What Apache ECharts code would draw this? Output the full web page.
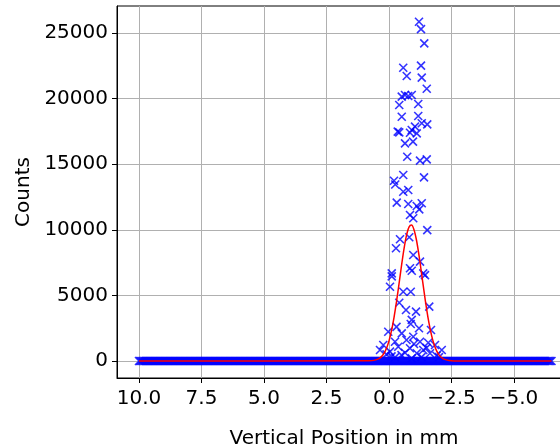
<!DOCTYPE html>
<html>
<head>
<meta charset="utf-8">
<script src="https://cdn.jsdelivr.net/npm/echarts@6/dist/echarts.min.js"></script>
<style>
  html, body { margin: 0; padding: 0; background: #fff; }
  #chart { width: 560px; height: 447px; }
</style>
</head>
<body>
<div id="chart"></div>
<script>
// positions (mm) of the flat zero-count samples
const baselineX = [
  10.0, 9.9, 9.8, 9.7, 9.6, 9.5, 9.4, 9.3, 9.2, 9.1,
  9.0, 8.9, 8.8, 8.7, 8.6, 8.5, 8.4, 8.3, 8.2, 8.1,
  8.0, 7.9, 7.8, 7.7, 7.6, 7.5, 7.4, 7.3, 7.2, 7.1,
  7.0, 6.9, 6.8, 6.7, 6.6, 6.5, 6.4, 6.3, 6.2, 6.1,
  6.0, 5.9, 5.8, 5.7, 5.6, 5.5, 5.4, 5.3, 5.2, 5.1,
  5.0, 4.9, 4.8, 4.7, 4.6, 4.5, 4.4, 4.3, 4.2, 4.1,
  4.0, 3.9, 3.8, 3.7, 3.6, 3.5, 3.4, 3.3, 3.2, 3.1,
  3.0, 2.9, 2.8, 2.7, 2.6, 2.5, 2.4, 2.3, 2.2, 2.1,
  2.0, 1.9, 1.8, 1.7, 1.6, 1.5, 1.4, 1.3, 1.2, 1.1,
  1.0, 0.9, 0.8, 0.7, 0.6, 0.5, 0.4, 0.3, 0.2, 0.1,
  0.0, -0.1, -0.2, -0.3, -0.4, -0.5, -0.6, -0.7, -0.8, -0.9,
  -1.0, -1.1, -1.2, -1.3, -1.4, -1.5, -1.6, -1.7, -1.8, -1.9,
  -2.0, -2.1, -2.2, -2.3, -2.4, -2.5, -2.6, -2.7, -2.8, -2.9,
  -3.0, -3.1, -3.2, -3.3, -3.4, -3.5, -3.6, -3.7, -3.8, -3.9,
  -4.0, -4.1, -4.2, -4.3, -4.4, -4.5, -4.6, -4.7, -4.8, -4.9,
  -5.0, -5.1, -5.2, -5.3, -5.4, -5.5, -5.6, -5.7, -5.8, -5.9,
  -6.0, -6.1, -6.2, -6.3, -6.4, -6.5
];
// the in-between zero-count samples
const baselineXMid = [
  9.95, 9.85, 9.75, 9.65, 9.55, 9.45, 9.35, 9.25, 9.15, 9.05,
  8.95, 8.85, 8.75, 8.65, 8.55, 8.45, 8.35, 8.25, 8.15, 8.05,
  7.95, 7.85, 7.75, 7.65, 7.55, 7.45, 7.35, 7.25, 7.15, 7.05,
  6.95, 6.85, 6.75, 6.65, 6.55, 6.45, 6.35, 6.25, 6.15, 6.05,
  5.95, 5.85, 5.75, 5.65, 5.55, 5.45, 5.35, 5.25, 5.15, 5.05,
  4.95, 4.85, 4.75, 4.65, 4.55, 4.45, 4.35, 4.25, 4.15, 4.05,
  3.95, 3.85, 3.75, 3.65, 3.55, 3.45, 3.35, 3.25, 3.15, 3.05,
  2.95, 2.85, 2.75, 2.65, 2.55, 2.45, 2.35, 2.25, 2.15, 2.05,
  1.95, 1.85, 1.75, 1.65, 1.55, 1.45, 1.35, 1.25, 1.15, 1.05,
  0.95, 0.85, 0.75, 0.65, 0.55, 0.45, 0.35, 0.25, 0.15, 0.05,
  -0.05, -0.15, -0.25, -0.35, -0.45, -0.55, -0.65, -0.75, -0.85, -0.95,
  -1.05, -1.15, -1.25, -1.35, -1.45, -1.55, -1.65, -1.75, -1.85, -1.95,
  -2.05, -2.15, -2.25, -2.35, -2.45, -2.55, -2.65, -2.75, -2.85, -2.95,
  -3.05, -3.15, -3.25, -3.35, -3.45, -3.55, -3.65, -3.75, -3.85, -3.95,
  -4.05, -4.15, -4.25, -4.35, -4.45, -4.55, -4.65, -4.75, -4.85, -4.95,
  -5.05, -5.15, -5.25, -5.35, -5.45, -5.55, -5.65, -5.75, -5.85, -5.95,
  -6.05, -6.15, -6.25, -6.35, -6.45
];

// peak samples
const peakX = [
  -1.20, -1.28, -1.41, -0.57, -0.71, -1.28, -1.31, -1.51,
  -0.51, -0.64, -0.77, -0.91, -0.41, -1.17, -0.51, -1.17, -1.31, -1.53,
  -0.35, -0.41, -0.91, -1.04, -0.84, -1.11, -0.64, -0.96, -0.73, -1.24,
  -1.51, -0.57, -0.20, -1.40,
  -0.25, -0.57, -0.77, -0.31, -0.77, -1.11, -1.31, -1.21, -0.84, -0.97,
  -1.53, -0.44, -0.81, -0.28, -0.97, -1.24, -0.84, -0.91, -0.11, -1.37,
  -0.11, -1.44, -0.04, -0.57, -0.87, -0.41, -1.61, -0.68, -1.08, -0.91,
  -0.87, 0.03, -0.51, -0.97, -1.68, -0.24, -1.24, -1.57, 0.23, -0.37,
  -0.84, -1.37, -1.84, -0.04, -0.64, -1.11, -1.64, 0.36, -0.91, -0.24,
  -2.11, -1.90, -0.10, -1.30, -0.50, -1.00, -1.50, 0.10, -2.00, -0.70,
  -1.20, -0.30
];
const peakCounts = [
  25860, 25300, 24210, 22350, 21720, 22510, 21600, 20750,
  20150, 20270, 20200, 20270, 19510, 19590, 18620, 18670, 18120, 18040,
  17480, 17430, 17610, 17860, 17400, 17350, 16590, 16720, 15570, 15270,
  15370, 14180, 13740, 14000,
  13450, 12900, 13030, 12070, 11970, 11810, 12020, 11560, 11130, 10880,
  9980, 9280, 9430, 8590, 8080, 7570, 7070, 6880, 6680, 6680,
  6450, 6550, 5660, 5280, 5280, 4440, 4140, 3890, 3760, 3130,
  2820, 2230, 2110, 1850, 2360, 1470, 1470, 1390, 1220, 1090,
  970, 840, 1220, 710, 630, 590, 590, 840, 200, 280,
  840, 400, 350, 300, 450, 1300, 1000, 500, 300, 1600,
  2500, 2600
];

// fitted curve
const curveX = [
  10.0, 0.8, 0.6, 0.4, 0.3, 0.2, 0.1, 0.0,
  -0.1, -0.2, -0.3, -0.4, -0.5, -0.6, -0.7, -0.8, -0.9, -1.0,
  -1.1, -1.2, -1.3, -1.4, -1.5, -1.6, -1.7, -1.8, -1.9, -2.0,
  -2.1, -2.2, -2.4, -2.6, -6.5
];
const curveCounts = [
  0, 10, 46, 182, 333, 582, 969, 1533,
  2308, 3311, 4519, 5870, 7260, 8545, 9573, 10207, 10360, 10008,
  9203, 8053, 6708, 5319, 4014, 2883, 1971, 1283, 795, 469,
  263, 140, 35, 7, 0
];

const xTicks = [10, 7.5, 5, 2.5, 0, -2.5, -5];
const yTicks = [0, 5000, 10000, 15000, 20000, 25000];

const scatterData = baselineX.concat(baselineXMid).map(x => [x, 0])
  .concat(peakX.map((x, i) => [x, peakCounts[i]]));
const curveData = curveX.map((x, i) => [x, curveCounts[i]]);

const font = 'DejaVu Sans';
const fmtX = v => (v < 0 ? '\u2212' : '') + Math.abs(v).toFixed(1);

const myChart = echarts.init(document.getElementById('chart'), null, { renderer: 'canvas' });
myChart.setOption({
  animation: false,
  grid: {
    left: 117,
    top: 6,
    right: -11,
    bottom: 69,
    show: true,
    borderColor: '#000',
    borderWidth: 1,
    containLabel: false,
    outerBoundsMode: 'none',
  },
  xAxis: {
    type: 'value',
    inverse: true,
    min: -7.28,
    max: 10.88,
    minInterval: 2.5,
    maxInterval: 2.5,
    name: 'Vertical Position in mm',
    nameLocation: 'middle',
    nameGap: 51,
    nameTextStyle: { fontFamily: font, fontSize: 20, color: '#000' },
    axisLine: { show: true, onZero: false, lineStyle: { color: '#000', width: 1 } },
    axisTick: { show: true, length: 5, lineStyle: { color: '#000' }, customValues: xTicks },
    axisLabel: {
      customValues: xTicks,
      formatter: fmtX,
      margin: 11,
      fontFamily: font,
      fontSize: 20,
      color: '#000',
    },
    splitLine: { show: true, lineStyle: { color: '#b0b0b0', width: 1 } },
  },
  yAxis: {
    type: 'value',
    min: -1296,
    max: 27058,
    minInterval: 5000,
    maxInterval: 5000,
    name: 'Counts',
    nameLocation: 'middle',
    nameGap: 80,
    nameTextStyle: { fontFamily: font, fontSize: 20, color: '#000' },
    axisLine: { show: true, onZero: false, lineStyle: { color: '#000', width: 1 } },
    axisTick: { show: true, length: 5, lineStyle: { color: '#000' }, customValues: yTicks },
    axisLabel: {
      customValues: yTicks,
      formatter: v => String(v),
      margin: 9,
      fontFamily: font,
      fontSize: 20,
      color: '#000',
    },
    splitLine: { show: true, lineStyle: { color: '#b0b0b0', width: 1 } },
  },
  series: [
    {
      type: 'scatter',
      data: scatterData,
      symbol: 'path://M0,0L10,10M10,0L0,10',
      symbolSize: 8,
      itemStyle: { color: 'rgba(0,0,0,0)', borderColor: '#0000ff', borderWidth: 1.6 },
      z: 2,
    },
    {
      type: 'line',
      data: curveData,
      showSymbol: false,
      smooth: 0.3,
      lineStyle: { color: '#ff0000', width: 1.5 },
      z: 3,
    },
  ],
});
window.addEventListener('resize', function () {
  myChart.resize();
});
</script>
</body>
</html>
